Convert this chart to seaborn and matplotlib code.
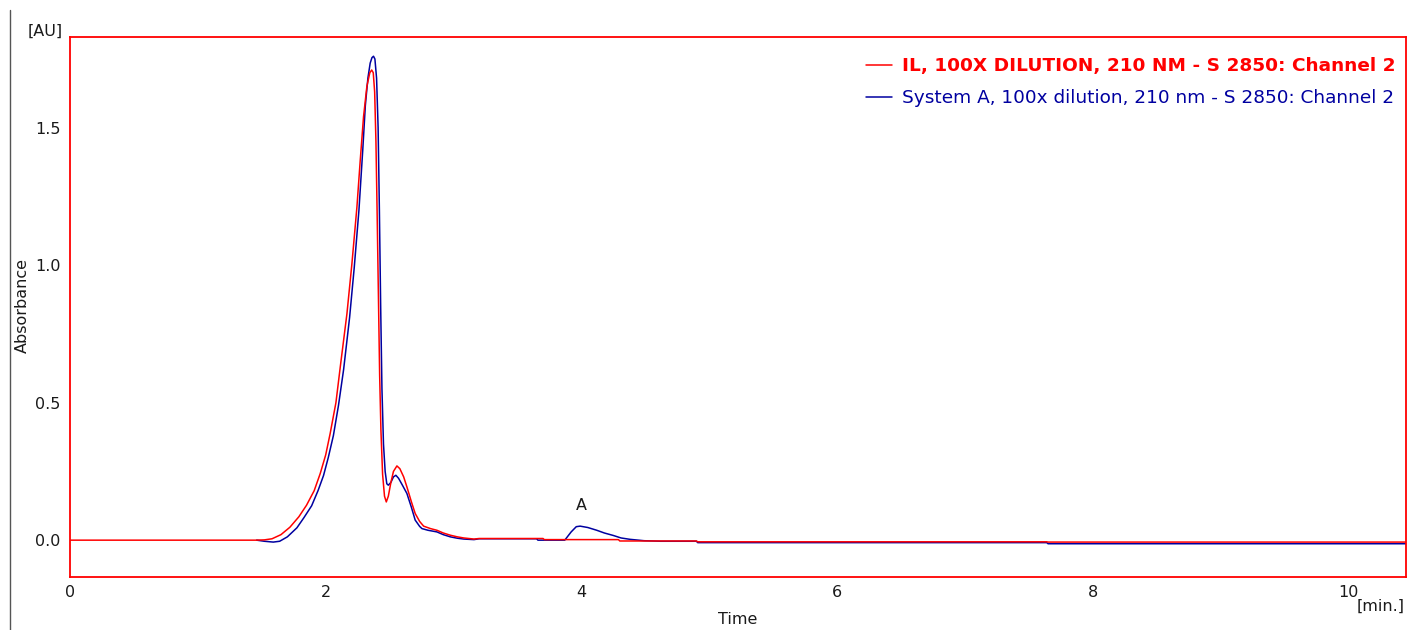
import numpy as np
import pandas as pd
import seaborn as sns
import matplotlib.pyplot as plt
from matplotlib.lines import Line2D

# trace: time [min] / absorbance [AU]
red_time = [0.0, 1.45, 1.52, 1.58, 1.65, 1.72, 1.79, 1.85, 1.91, 1.957, 2.0, 2.035,
            2.08, 2.114, 2.166, 2.205, 2.244, 2.27, 2.296, 2.322, 2.345, 2.36, 2.372,
            2.383, 2.393, 2.402, 2.412, 2.422, 2.432, 2.445, 2.46, 2.474, 2.49, 2.51,
            2.53, 2.557, 2.58, 2.61, 2.635, 2.67, 2.70, 2.735, 2.766, 2.82, 2.87, 2.92,
            2.975, 3.03, 3.08, 3.16, 3.20, 3.70, 3.71, 4.29, 4.30, 4.90, 4.91, 7.64,
            7.65, 10.45]
red_abs = [0.0, 0.0, 0.001, 0.005, 0.02, 0.047, 0.085, 0.127, 0.18, 0.242, 0.31, 0.388,
           0.50, 0.63, 0.823, 1.005, 1.21, 1.38, 1.54, 1.65, 1.70, 1.71, 1.70,
           1.63, 1.45, 1.20, 0.90, 0.60, 0.40, 0.24, 0.16, 0.139, 0.16, 0.21,
           0.25, 0.27, 0.26, 0.23, 0.194, 0.14, 0.097, 0.068, 0.051, 0.042, 0.036, 0.026,
           0.018, 0.012, 0.008, 0.004, 0.006, 0.006, 0.002, 0.002, -0.003, -0.003, -0.006, -0.006,
           -0.007, -0.007]

blue_time = [1.46, 1.52, 1.59, 1.64, 1.70, 1.775, 1.83, 1.89, 1.94, 1.983, 2.02, 2.06,
             2.10, 2.14, 2.187, 2.223, 2.26, 2.29, 2.31, 2.33, 2.348, 2.362, 2.374,
             2.385, 2.398, 2.41, 2.42, 2.43, 2.44, 2.452, 2.465, 2.478, 2.49, 2.51,
             2.53, 2.549, 2.57, 2.60, 2.635, 2.67, 2.70, 2.735, 2.753, 2.80, 2.87, 2.92,
             2.975, 3.03, 3.08, 3.16, 3.20, 3.65, 3.66, 3.87, 3.92, 3.96, 3.99, 4.05,
             4.12, 4.18, 4.25, 4.31, 4.38, 4.49, 4.62, 4.90, 4.91, 7.64, 7.65, 10.45]
blue_abs = [0.0, -0.004, -0.007, -0.004, 0.012, 0.045, 0.082, 0.125, 0.18, 0.235, 0.30, 0.38,
            0.49, 0.62, 0.81, 0.99, 1.20, 1.42, 1.58, 1.68, 1.735, 1.755, 1.76,
            1.75, 1.68, 1.50, 1.20, 0.85, 0.55, 0.35, 0.25, 0.205, 0.20, 0.21,
            0.23, 0.236, 0.225, 0.20, 0.17, 0.12, 0.073, 0.05, 0.042, 0.036, 0.030, 0.02,
            0.012, 0.007, 0.004, 0.002, 0.005, 0.005, 0.0, 0.0, 0.03, 0.049, 0.051, 0.046,
            0.036, 0.026, 0.017, 0.008, 0.003, -0.002, -0.004, -0.004, -0.009, -0.009,
            -0.013, -0.013]

red_label = "IL, 100X DILUTION, 210 NM - S 2850: Channel 2"
blue_label = "System A, 100x dilution, 210 nm - S 2850: Channel 2"
x_ticks = [0, 2, 4, 6, 8, 10]
y_ticks = [0.0, 0.5, 1.0, 1.5]
peak_label = "A"
peak_pos = (4.0, 0.127)

RED = "#ff0000"
BLUE = "#0000a0"
TXT = "#1a1a1a"

sns.set_style("white")
plt.rcParams["font.family"] = ["DejaVu Sans"]

df_red = pd.DataFrame({"t": red_time, "a": red_abs})
df_blue = pd.DataFrame({"t": blue_time, "a": blue_abs})

fig = plt.figure(figsize=(14.08, 6.3), dpi=100)
ax = fig.add_axes([70 / 1408, 1 - 577 / 630, 1336 / 1408, 540 / 630])

# blue first so red sits on top where they overlap
sns.lineplot(data=df_blue, x="t", y="a", ax=ax, color=BLUE, linewidth=1.1,
             estimator=None, sort=False)
sns.lineplot(data=df_red, x="t", y="a", ax=ax, color=RED, linewidth=1.1,
             estimator=None, sort=False)

ax.set_xlim(0, 10.45)
ax.set_ylim(-0.134, 1.83)
ax.set_xticks(x_ticks)
ax.set_xticklabels([str(v) for v in x_ticks])
ax.set_yticks(y_ticks)
ax.set_yticklabels([f"{v:.1f}" for v in y_ticks])
ax.tick_params(axis="both", which="major", direction="out", length=4, width=1,
               color=RED, labelcolor=TXT, labelsize=11.5, pad=3)
ax.tick_params(axis="x", pad=2)
for sp in ax.spines.values():
    sp.set_color(RED)
    sp.set_linewidth(1.3)
    sp.set_visible(True)

ax.set_xlabel("")
ax.set_ylabel("")
fig.text(738 / 1408, 1 - 620 / 630, "Time", ha="center", va="center",
         fontsize=11.5, color=TXT)
fig.text(22 / 1408, 1 - 305 / 630, "Absorbance", ha="center", va="center",
         rotation=90, fontsize=11.5, color=TXT)
fig.text(63 / 1408, 1 - 31 / 630, "[AU]", ha="right", va="center",
         fontsize=11.5, color=TXT)
fig.text(1405 / 1408, 1 - 606 / 630, "[min.]", ha="right", va="center",
         fontsize=11.5, color=TXT)

ax.text(peak_pos[0], peak_pos[1], peak_label, ha="center", va="center",
        fontsize=11.5, color=TXT)

# thin grey rule on the far left
fig.add_artist(Line2D([10 / 1408, 10 / 1408], [0, 1 - 10 / 630],
                      transform=fig.transFigure, color="#555555", linewidth=1))

handles = [Line2D([], [], color=RED, linewidth=1.1),
           Line2D([], [], color=BLUE, linewidth=1.1)]
leg = fig.legend(handles, [red_label, blue_label], loc="upper left",
                 bbox_to_anchor=(866 / 1408, 1 - 57 / 630), frameon=False,
                 fontsize=13.3, handlelength=1.42, handletextpad=0.55,
                 labelspacing=0.78, borderpad=0, borderaxespad=0)
texts = leg.get_texts()
texts[0].set_color(RED)
texts[0].set_fontweight("bold")
texts[1].set_color(BLUE)

fig.savefig("out.png", dpi=100)
